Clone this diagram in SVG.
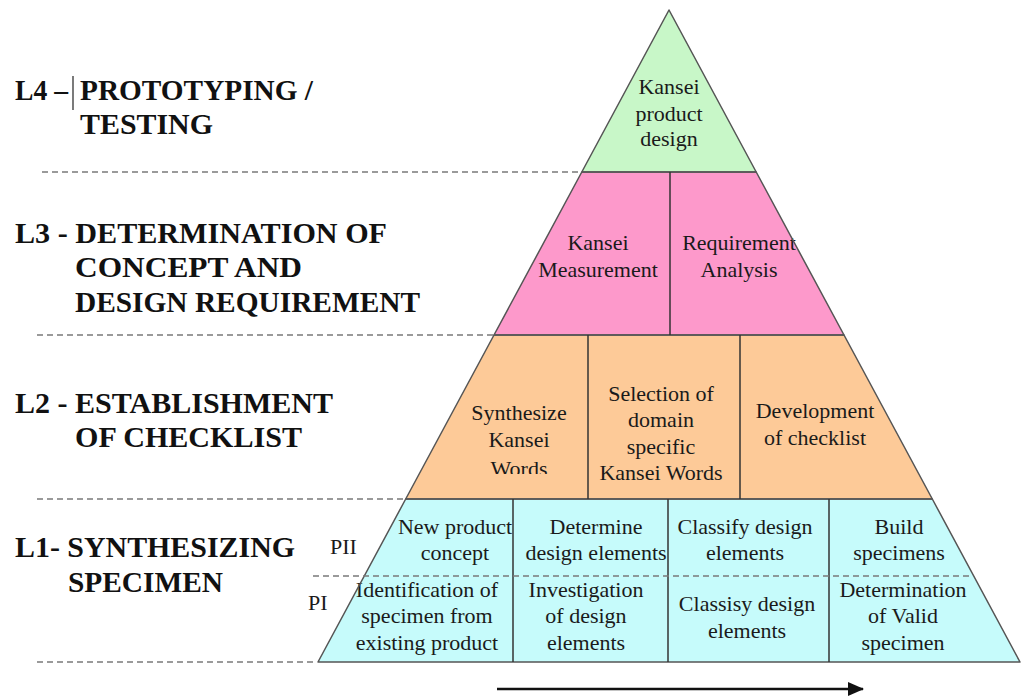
<svg xmlns="http://www.w3.org/2000/svg" width="1021" height="699" viewBox="0 0 1021 699">
<style>
.lbl{font-weight:bold;font-size:29px;fill:#111}
.t{font-size:22px;fill:#1a1a1a;text-anchor:middle}
.p{font-size:22px;fill:#1a1a1a}
.green{fill:#c8f7c8}
.pink{fill:#fd99cb}
.orange{fill:#fdca98}
.cyan{fill:#c6fbfb}
.frame{fill:none;stroke:#555;stroke-width:1.5;stroke-linejoin:round}
.div{stroke:#333;stroke-width:1.5}
.guide{stroke:#7a7a7a;stroke-width:1.5;stroke-dasharray:6 4;fill:none}
</style>
<defs>
<marker id="ah" markerWidth="16" markerHeight="14" refX="15" refY="7" orient="auto" markerUnits="userSpaceOnUse" viewBox="0 0 16 14">
<path d="M0,0 L16,7 L0,14 z" fill="#111"/>
</marker>
<clipPath id="clipWords"><rect x="405" y="335" width="183" height="139"/></clipPath>
</defs>
<rect width="1021" height="699" fill="#fff"/>
<g font-family="'Liberation Serif', 'DejaVu Serif', 'Noto Serif', serif">
<g id="levels-labels">
<g id="label-L4">
<text class="lbl" x="15" y="100" textLength="53" lengthAdjust="spacingAndGlyphs">L4 –</text>
<line x1="73" y1="76" x2="73" y2="110" stroke="#222" stroke-width="1.2"/>
<text class="lbl" x="80" y="100" textLength="233" lengthAdjust="spacingAndGlyphs">PROTOTYPING /</text>
<text class="lbl" x="80" y="134" textLength="133" lengthAdjust="spacingAndGlyphs">TESTING</text>
</g>
<g id="label-L3">
<text class="lbl" x="15" y="243" textLength="372" lengthAdjust="spacingAndGlyphs">L3 - DETERMINATION OF</text>
<text class="lbl" x="75" y="277" textLength="227" lengthAdjust="spacingAndGlyphs">CONCEPT AND</text>
<text class="lbl" x="75" y="312" textLength="345" lengthAdjust="spacingAndGlyphs">DESIGN REQUIREMENT</text>
</g>
<g id="label-L2">
<text class="lbl" x="15" y="413" textLength="318" lengthAdjust="spacingAndGlyphs">L2 - ESTABLISHMENT</text>
<text class="lbl" x="75" y="447" textLength="227" lengthAdjust="spacingAndGlyphs">OF CHECKLIST</text>
</g>
<g id="label-L1">
<text class="lbl" x="15" y="557" textLength="280" lengthAdjust="spacingAndGlyphs">L1- SYNTHESIZING</text>
<text class="lbl" x="68" y="592" textLength="155" lengthAdjust="spacingAndGlyphs">SPECIMEN</text>
</g>
<text class="p" x="330" y="554">PII</text>
<text class="p" x="308" y="610">PI</text>
</g>

<g id="l4-kansei-product-design">
<polygon class="green" points="669,10 756.2,172 581.8,172"/>
<text class="t" x="669" y="94">Kansei</text>
<text class="t" x="669" y="121">product</text>
<text class="t" x="669" y="146">design</text>
</g>

<g id="l3-kansei-measurement">
<polygon class="pink" points="581.8,172 670,172 670,335 494,335"/>
<text class="t" x="598" y="250">Kansei</text>
<text class="t" x="598" y="277">Measurement</text>
</g>
<g id="l3-requirement-analysis">
<polygon class="pink" points="670,172 756.2,172 844,335 670,335"/>
<text class="t" x="739" y="250">Requirement</text>
<text class="t" x="739" y="277">Analysis</text>
</g>

<g id="l2-synthesize">
<polygon class="orange" points="494,335 588,335 588,499 405.7,499"/>
<text class="t" x="519" y="420">Synthesize</text>
<text class="t" x="519" y="447">Kansei</text>
<text class="t" x="519" y="476" clip-path="url(#clipWords)">Words</text>
</g>
<g id="l2-selection">
<polygon class="orange" points="588,335 740,335 740,499 588,499"/>
<text class="t" x="661" y="401">Selection of</text>
<text class="t" x="661" y="427">domain</text>
<text class="t" x="661" y="454">specific</text>
<text class="t" x="661" y="480">Kansei Words</text>
</g>
<g id="l2-development">
<polygon class="orange" points="740,335 844,335 932.3,499 740,499"/>
<text class="t" x="815" y="418">Development</text>
<text class="t" x="815" y="445">of checklist</text>
</g>

<g id="l1-pii-new-product">
<polygon class="cyan" points="405.7,499 513,499 513,576 364.3,576"/>
<text class="t" x="455" y="534">New product</text>
<text class="t" x="455" y="560">concept</text>
</g>
<g id="l1-pii-determine">
<polygon class="cyan" points="513,499 668,499 668,576 513,576"/>
<text class="t" x="596" y="534">Determine</text>
<text class="t" x="596" y="560">design elements</text>
</g>
<g id="l1-pii-classify">
<polygon class="cyan" points="668,499 829,499 829,576 668,576"/>
<text class="t" x="745" y="534">Classify design</text>
<text class="t" x="745" y="560">elements</text>
</g>
<g id="l1-pii-build">
<polygon class="cyan" points="829,499 932.3,499 973.7,576 829,576"/>
<text class="t" x="899" y="534">Build</text>
<text class="t" x="899" y="560">specimens</text>
</g>
<g id="l1-pi-identification">
<polygon class="cyan" points="364.3,576 513,576 513,662 318,662"/>
<text class="t" x="427" y="597">Identification of</text>
<text class="t" x="427" y="623">specimen from</text>
<text class="t" x="427" y="650">existing product</text>
</g>
<g id="l1-pi-investigation">
<polygon class="cyan" points="513,576 668,576 668,662 513,662"/>
<text class="t" x="586" y="597">Investigation</text>
<text class="t" x="586" y="623">of design</text>
<text class="t" x="586" y="650">elements</text>
</g>
<g id="l1-pi-classisy">
<polygon class="cyan" points="668,576 829,576 829,662 668,662"/>
<text class="t" x="747" y="611">Classisy design</text>
<text class="t" x="747" y="638">elements</text>
</g>
<g id="l1-pi-determination">
<polygon class="cyan" points="829,576 973.7,576 1020,662 829,662"/>
<text class="t" x="903" y="597">Determination</text>
<text class="t" x="903" y="623">of Valid</text>
<text class="t" x="903" y="650">specimen</text>
</g>
</g>

<g id="frame">
<polygon class="frame" points="669,10 756.2,172 581.8,172"/>
<polygon class="frame" points="581.8,172 756.2,172 844,335 494,335"/>
<polygon class="frame" points="494,335 844,335 932.3,499 405.7,499"/>
<polygon class="frame" points="405.7,499 932.3,499 1020,662 318,662"/>
<line class="div" x1="670" y1="172" x2="670" y2="335"/>
<line class="div" x1="588" y1="335" x2="588" y2="499"/>
<line class="div" x1="740" y1="335" x2="740" y2="499"/>
<line class="div" x1="513" y1="499" x2="513" y2="662"/>
<line class="div" x1="668" y1="499" x2="668" y2="662"/>
<line class="div" x1="829" y1="499" x2="829" y2="662"/>
</g>

<g id="connectors">
<line class="guide" x1="42" y1="172" x2="581" y2="172"/>
<line class="guide" x1="37" y1="335" x2="493" y2="335"/>
<line class="guide" x1="37" y1="499" x2="405" y2="499"/>
<line class="guide" x1="37" y1="662" x2="317" y2="662"/>
<line class="guide" x1="313" y1="576" x2="973" y2="576"/>
<line x1="497" y1="689" x2="863" y2="689" stroke="#111" stroke-width="2.5" marker-end="url(#ah)"/>
</g>
</svg>
